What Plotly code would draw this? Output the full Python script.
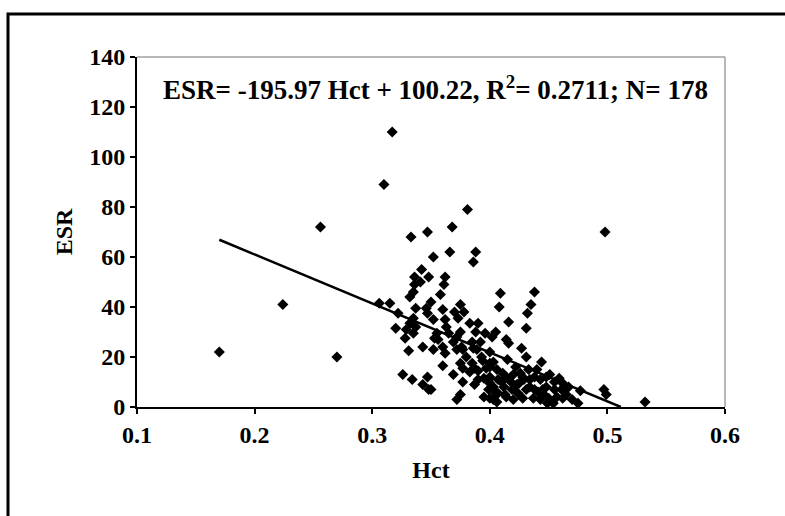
import plotly.graph_objects as go

# ---- data ----
hct = [0.170, 0.224, 0.256, 0.270, 0.310, 0.317, 0.381, 0.333, 0.347, 0.368,
       0.352, 0.366, 0.388, 0.386, 0.342, 0.336, 0.348, 0.362, 0.336, 0.361,
       0.335, 0.332, 0.358, 0.409, 0.438, 0.435, 0.408, 0.432, 0.306, 0.315,
       0.322, 0.337, 0.346, 0.347, 0.360, 0.375, 0.352, 0.362, 0.373, 0.383,
       0.390, 0.416, 0.335, 0.332, 0.337, 0.329, 0.320, 0.335, 0.328, 0.363,
       0.365, 0.375, 0.388, 0.396, 0.405, 0.402, 0.431, 0.372, 0.355, 0.356,
       0.414, 0.416, 0.331, 0.343, 0.360, 0.376, 0.427, 0.431, 0.444, 0.362,
       0.380, 0.353, 0.352, 0.369, 0.372, 0.377, 0.386, 0.385, 0.400, 0.394,
       0.403, 0.400, 0.360, 0.375, 0.326, 0.334, 0.343, 0.347, 0.348, 0.369,
       0.350, 0.375, 0.372, 0.377, 0.383, 0.390, 0.390, 0.395, 0.400, 0.407,
       0.399, 0.405, 0.412, 0.413, 0.419, 0.425, 0.428, 0.434, 0.414, 0.420,
       0.438, 0.443, 0.448, 0.420, 0.428, 0.437, 0.443, 0.450, 0.424, 0.431,
       0.438, 0.445, 0.400, 0.406, 0.451, 0.459, 0.462, 0.448, 0.455, 0.461,
       0.467, 0.446, 0.457, 0.462, 0.465, 0.449, 0.454, 0.475, 0.477, 0.497,
       0.499, 0.532, 0.498, 0.389, 0.393, 0.387, 0.400, 0.406, 0.400, 0.377,
       0.387, 0.397, 0.399, 0.403, 0.411, 0.407, 0.403, 0.414, 0.426, 0.429,
       0.434, 0.395, 0.410, 0.418, 0.422, 0.433, 0.440, 0.392, 0.378, 0.370,
       0.350, 0.341, 0.415, 0.423, 0.385, 0.441, 0.470, 0.455]
esr = [22.0, 41.0, 72.0, 20.0, 89.0, 110.0, 79.0, 68.0, 70.0, 72.0,
       60.0, 62.0, 62.0, 58.0, 55.0, 52.0, 52.0, 52.0, 49.0, 49.0,
       46.0, 44.0, 45.0, 45.5, 46.0, 41.0, 40.0, 37.5, 41.5, 41.5,
       37.5, 39.5, 39.5, 37.5, 39.0, 41.0, 35.0, 35.0, 35.5, 33.5,
       33.5, 34.0, 35.5, 33.5, 32.0, 31.0, 31.5, 29.5, 27.5, 32.0,
       29.5, 30.0, 30.0, 29.5, 30.0, 28.0, 31.5, 28.0, 29.5, 27.0,
       27.0, 25.5, 22.5, 24.0, 24.0, 24.0, 23.5, 20.0, 18.0, 21.5,
       20.0, 27.5, 23.0, 26.0, 23.0, 23.0, 23.5, 17.5, 22.0, 18.5,
       18.0, 16.0, 16.5, 17.5, 13.0, 11.0, 9.0, 12.0, 7.0, 13.0,
       7.0, 5.0, 3.0, 15.5, 14.0, 14.5, 11.0, 11.5, 9.5, 11.0,
       7.0, 5.5, 8.0, 5.0, 7.0, 9.5, 12.0, 11.0, 12.0, 13.0,
       12.0, 11.0, 12.0, 3.0, 3.5, 3.5, 3.0, 3.5, 5.5, 7.0,
       7.0, 7.0, 3.5, 2.0, 13.0, 11.5, 9.5, 8.0, 7.0, 7.0,
       8.0, 5.0, 4.0, 3.5, 5.0, 1.5, 1.5, 1.5, 6.5, 7.0,
       5.0, 2.0, 70.0, 23.0, 20.0, 15.5, 17.5, 15.0, 12.0, 10.0,
       9.0, 15.5, 11.0, 8.0, 13.5, 5.5, 3.0, 4.0, 13.5, 11.0,
       8.0, 4.0, 10.0, 10.0, 16.0, 15.0, 15.0, 26.0, 38.0, 38.0,
       42.0, 50.0, 19.0, 9.0, 26.0, 6.0, 3.0, 10.0]

slope = -195.97
intercept = 100.22
fit_x = [0.170, -intercept / slope]
fit_y = [slope * v + intercept for v in fit_x]

x_ticks = [0.1, 0.2, 0.3, 0.4, 0.5, 0.6]
y_ticks = [0, 20, 40, 60, 80, 100, 120, 140]

FONT = "Liberation Serif"
TICK_SIZE = 24

fig = go.Figure()
fig.add_trace(go.Scatter(
    x=hct, y=esr, mode="markers",
    marker=dict(symbol="diamond", size=8.5, color="black", line=dict(width=0)),
    showlegend=False, hoverinfo="x+y"))
fig.add_trace(go.Scatter(
    x=fit_x, y=fit_y, mode="lines",
    line=dict(color="black", width=2.5), showlegend=False))

axis_common = dict(
    showgrid=False, zeroline=False, showline=True, linecolor="black",
    linewidth=2, ticks="outside", ticklen=5, tickwidth=2, tickcolor="black",
    tickfont=dict(family=FONT, size=TICK_SIZE, color="black", weight="bold"),
)

fig.update_xaxes(range=[0.1, 0.6], tickvals=x_ticks,
                 ticktext=[f"{v:.1f}" for v in x_ticks],
                 title=dict(text="Hct", standoff=14,
                            font=dict(family=FONT, size=TICK_SIZE, color="black", weight="bold")),
                 **axis_common)
fig.update_yaxes(range=[0, 140], tickvals=y_ticks,
                 title=dict(text="ESR", standoff=10,
                            font=dict(family=FONT, size=TICK_SIZE, color="black", weight="bold")),
                 **axis_common)

fig.add_annotation(
    xref="paper", yref="paper", x=0.507, y=0.911,
    text="ESR= -195.97 Hct + 100.22, R<sup>2</sup>= 0.2711; N= 178",
    showarrow=False, xanchor="center", yanchor="middle",
    font=dict(family=FONT, size=27, color="black", weight="bold"))

# plot-area light border (top and right)
fig.add_shape(type="line", xref="paper", yref="paper", x0=0, x1=1, y0=1, y1=1,
              line=dict(color="#a0a0a0", width=1.5))
fig.add_shape(type="line", xref="paper", yref="paper", x0=1, x1=1, y0=0, y1=1,
              line=dict(color="#a0a0a0", width=1.5))

# outer frame: a rectangle whose right and bottom edges lie off the page
fx = (8 - 137) / 588
fy = (407 - 14) / 350
fx_end = (830 - 137) / 588
fy_end = (407 - 560) / 350
fig.add_shape(type="rect", xref="paper", yref="paper",
              x0=fx, x1=fx_end, y0=fy_end, y1=fy,
              line=dict(color="black", width=3), fillcolor="rgba(0,0,0,0)")

fig.update_layout(
    width=785, height=516,
    margin=dict(l=137, r=60, t=57, b=109),
    paper_bgcolor="white", plot_bgcolor="white",
    font=dict(family=FONT, color="black"),
)

fig.write_html("out.html", config={"displayModeBar": False})
